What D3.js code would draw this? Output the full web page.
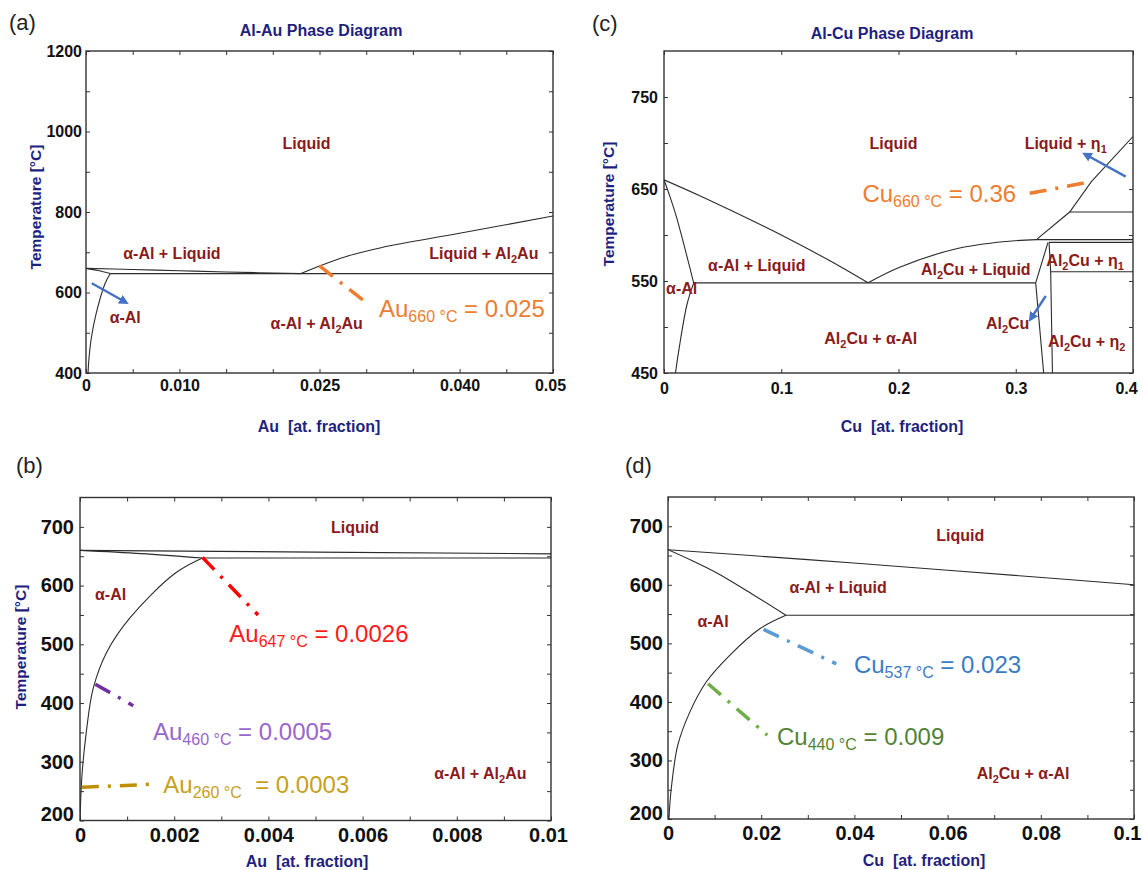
<!DOCTYPE html>
<html>
<head>
<meta charset="utf-8">
<script src="https://cdn.jsdelivr.net/npm/d3@7"></script>
<style>
  body { margin: 0; background: #fff; }
  svg { display: block; font-family: Arial, 'Liberation Sans', sans-serif; }
</style>
</head>
<body>
<div id="chart"></div>
<script>
// ---- Al-Au system (x = Au at. fraction, y = temperature in °C) ----
var auLiquidus = [[0, 660], [0.005, 657], [0.01, 654], [0.015, 651], [0.023, 647]]
var auSolidus = [[0, 660], [0.0013, 654.5], [0.0026, 647]]
var auSolvus = [[0, 200], [0.00004, 275], [0.00013, 348], [0.00028, 425], [0.00057, 487], [0.00106, 545], [0.00202, 621], [0.0026, 647]]
var auEutectic = [[0.0026, 647], [0.05, 647]]
var al2AuLiquidus = [[0.023, 647], [0.025, 666], [0.0278, 689], [0.0317, 712], [0.04, 747], [0.05, 790]]

// ---- Al-Cu system (x = Cu at. fraction) ----
var cuLiquidus = [[0, 660], [0.03, 643], [0.06, 625], [0.1, 600], [0.14, 573], [0.174, 548]]
var cuSolidus = [[0, 660], [0.005, 642], [0.0103, 621], [0.0181, 584], [0.0253, 548]]
var cuSolvus = [[0.0002, 200], [0.0007, 252], [0.0021, 326], [0.0047, 383], [0.0082, 434], [0.0133, 480], [0.0197, 525], [0.0253, 548]]
var cuEutectic = [[0.0253, 548], [0.317, 548]]
var thetaLiquidus = [[0.174, 548], [0.201, 565], [0.2494, 585], [0.292, 593], [0.3176, 595]]
var thetaSolidus = [[0.317, 548], [0.3275, 592]]
var thetaSolvusLeft = [[0.317, 548], [0.3238, 450]]
var thetaSolvusRight = [[0.3284, 592], [0.3298, 560], [0.3313, 450]]
var eta1Liquidus = [[0.3176, 595], [0.346, 625], [0.3645, 658], [0.4, 707]]
var cuPeritectic = [[0.3176, 595], [0.4, 595]]
var cuThetaTop = [[0.3284, 592], [0.4, 592]]
var cuEta1Step = [[0.346, 625], [0.4, 625]]
var cuEtaTransition = [[0.3298, 560], [0.4, 560]]

// ---- annotation leaders and arrows ----
var auNote660 = [[0.025, 666], [0.0301, 573]]
var auArrowAlpha = [[0.00062, 623], [0.0043, 575]]
var auNote647 = [[0.0026, 648], [0.00378, 550]]
var auNote460 = [[0.000326, 432], [0.00113, 395.5]]
var auNote260 = [[0.00004, 256.5], [0.00159, 262]]
var cuNote660 = [[0.3119, 645.3], [0.3645, 658]]
var cuArrowEta = [[0.3938, 663.4], [0.3588, 688]]
var cuArrowTheta = [[0.3256, 533.7], [0.3125, 508.4]]
var cuNote537 = [[0.0205, 524], [0.0361, 465]]
var cuNote440 = [[0.0086, 431], [0.0213, 343]]

// ---- ticks ----
var auWideXMajor = [0, 0.01, 0.025, 0.04, 0.05]
var auWideXLabels = ['0', '0.010', '0.025', '0.040', '0.05']
var auWideXMinor = [0.005, 0.015, 0.02, 0.03, 0.035, 0.045]
var auWideYMajor = [400, 600, 800, 1000, 1200]
var auWideYMinor = [500, 700, 900, 1100]

var cuWideXMajor = [0, 0.1, 0.2, 0.3, 0.4]
var cuWideXLabels = ['0', '0.1', '0.2', '0.3', '0.4']
var cuWideYMajor = [450, 550, 650, 750]
var cuWideYMinor = [500, 600, 700]

var auZoomXMajor = [0, 0.002, 0.004, 0.006, 0.008, 0.01]
var auZoomXLabels = ['0', '0.002', '0.004', '0.006', '0.008', '0.01']
var auZoomXMinor = [0.001, 0.003, 0.005, 0.007, 0.009]

var cuZoomXMajor = [0, 0.02, 0.04, 0.06, 0.08, 0.1]
var cuZoomXLabels = ['0', '0.02', '0.04', '0.06', '0.08', '0.1']
var cuZoomXMinor = [0.01, 0.03, 0.05, 0.07, 0.09]

var zoomYMajor = [200, 300, 400, 500, 600, 700]
var zoomYMinor = [250, 350, 450, 550, 650]

var NAVY = '#1f1f80'
var MAROON = '#8b1a1a'
var INK = '#2b2b2b'

var panels = [
  {
    id: 'a', tag: '(a)', tagPos: [9, 30],
    box: {left: 86, right: 553, top: 51, bottom: 373},
    xDomain: [0, 0.05], yDomain: [400, 1200],
    xMajor: auWideXMajor, xLabels: auWideXLabels, xMinor: auWideXMinor,
    yMajor: auWideYMajor, yMinor: auWideYMinor,
    tickFont: 16, xPad: 7, yPad: 4, endShift: -3,
    title: 'Al-Au Phase Diagram', titlePos: [321, 36],
    xTitle: 'Au  [at. fraction]', xTitlePos: [319, 432],
    yTitle: 'Temperature [°C]', yTitlePos: [35, 207],
    lines: [
      {pts: auLiquidus, curve: true}, {pts: auSolidus, curve: true}, {pts: auSolvus, curve: true},
      {pts: auEutectic}, {pts: al2AuLiquidus, curve: true}
    ],
    labels: [
      {t: 'Liquid', at: [0.0236, 971]},
      {t: 'α-Al + Liquid', at: [0.0092, 698]},
      {t: 'Liquid + Al{2}Au', at: [0.0426, 698]},
      {t: 'α-Al', at: [0.0042, 537]},
      {t: 'α-Al + Al{2}Au', at: [0.0247, 524]}
    ],
    notes: [
      {t: 'Au{660 °C} = 0.025', at: [0.03137, 540], color: '#ed7d31', line: auNote660, lineColor: '#ed7d31'}
    ],
    arrows: [auArrowAlpha]
  },
  {
    id: 'c', tag: '(c)', tagPos: [592, 31],
    box: {left: 664, right: 1133, top: 51, bottom: 373},
    xDomain: [0, 0.4], yDomain: [450, 800],
    xMajor: cuWideXMajor, xLabels: cuWideXLabels, xMinor: [],
    yMajor: cuWideYMajor, yMinor: cuWideYMinor,
    tickFont: 16, xPad: 10, yPad: 6, endShift: -7,
    title: 'Al-Cu Phase Diagram', titlePos: [892, 39],
    xTitle: 'Cu  [at. fraction]', xTitlePos: [902, 432],
    yTitle: 'Temperature [°C]', yTitlePos: [608, 204],
    lines: [
      {pts: cuLiquidus, curve: true}, {pts: cuSolidus, curve: true}, {pts: cuSolvus, curve: true},
      {pts: cuEutectic}, {pts: thetaLiquidus, curve: true}, {pts: thetaSolidus},
      {pts: thetaSolvusLeft}, {pts: thetaSolvusRight}, {pts: eta1Liquidus},
      {pts: cuPeritectic}, {pts: cuThetaTop}, {pts: cuEta1Step}, {pts: cuEtaTransition}
    ],
    labels: [
      {t: 'Liquid', at: [0.1957, 700]},
      {t: 'Liquid + η{1}', at: [0.3426, 700]},
      {t: 'α-Al + Liquid', at: [0.0791, 567]},
      {t: 'Al{2}Cu + Liquid', at: [0.2659, 562.7]},
      {t: 'Al{2}Cu + η{1}', at: [0.3592, 572.8]},
      {t: 'α-Al', at: [0.0151, 542]},
      {t: 'Al{2}Cu', at: [0.2931, 504]},
      {t: 'Al{2}Cu + α-Al', at: [0.1763, 487.7]},
      {t: 'Al{2}Cu + η{2}', at: [0.3605, 484]}
    ],
    notes: [
      {t: 'Cu{660 °C} = 0.36', at: [0.1692, 636.2], color: '#ed7d31', line: cuNote660, lineColor: '#ed7d31'}
    ],
    arrows: [cuArrowEta, cuArrowTheta]
  },
  {
    id: 'b', tag: '(b)', tagPos: [16, 473],
    box: {left: 80, right: 551, top: 497.5, bottom: 820.5},
    xDomain: [0, 0.01], yDomain: [200, 750],
    xMajor: auZoomXMajor, xLabels: auZoomXLabels, xMinor: auZoomXMinor,
    yMajor: zoomYMajor, yMinor: zoomYMinor,
    tickFont: 20, xPad: 7, yPad: 6, lift: 6, endShift: -3,
    xTitle: 'Au  [at. fraction]', xTitlePos: [307, 867],
    yTitle: 'Temperature [°C]', yTitlePos: [20, 647],
    lines: [
      {pts: auLiquidus, curve: true}, {pts: auSolidus, curve: true}, {pts: auSolvus, curve: true},
      {pts: auEutectic}
    ],
    labels: [
      {t: 'Liquid', at: [0.00584, 699]},
      {t: 'α-Al', at: [0.00065, 584]},
      {t: 'α-Al + Al{2}Au', at: [0.0085, 280]}
    ],
    notes: [
      {t: 'Au{647 °C} = 0.0026', at: [0.00317, 504.5], color: '#ff1a1a', line: auNote647, lineColor: '#ff0000'},
      {t: 'Au{460 °C} = 0.0005', at: [0.00155, 337], color: '#9966cc', line: auNote460, lineColor: '#7030a0'},
      {t: 'Au{260 °C}  = 0.0003', at: [0.00177, 247], color: '#c8a020', line: auNote260, lineColor: '#c09000'}
    ],
    arrows: []
  },
  {
    id: 'd', tag: '(d)', tagPos: [625, 473],
    box: {left: 668, right: 1134, top: 497, bottom: 819},
    xDomain: [0, 0.1], yDomain: [200, 750],
    xMajor: cuZoomXMajor, xLabels: cuZoomXLabels, xMinor: cuZoomXMinor,
    yMajor: zoomYMajor, yMinor: zoomYMinor,
    tickFont: 20, xPad: 7, yPad: 5, lift: 6, endShift: -7,
    xTitle: 'Cu  [at. fraction]', xTitlePos: [924, 866],
    lines: [
      {pts: cuLiquidus, curve: true}, {pts: cuSolidus, curve: true}, {pts: cuSolvus, curve: true},
      {pts: cuEutectic}
    ],
    labels: [
      {t: 'Liquid', at: [0.0627, 685]},
      {t: 'α-Al + Liquid', at: [0.0365, 595]},
      {t: 'α-Al', at: [0.00966, 537]},
      {t: 'Al{2}Cu + α-Al', at: [0.0762, 278]}
    ],
    notes: [
      {t: 'Cu{537 °C} = 0.023', at: [0.0399, 449], color: '#3a7cc4', line: cuNote537, lineColor: '#5b9bd5'},
      {t: 'Cu{440 °C} = 0.009', at: [0.0234, 326], color: '#548235', line: cuNote440, lineColor: '#70ad47'}
    ],
    arrows: []
  }
]

var svg = d3.select('#chart').append('svg')
  .attr('width', 1143)
  .attr('height', 870)

var defs = svg.append('defs')
defs.append('marker')
  .attr('id', 'arrow-blue')
  .attr('viewBox', '0 0 10 10')
  .attr('refX', 7)
  .attr('refY', 5)
  .attr('markerWidth', 4)
  .attr('markerHeight', 4)
  .attr('orient', 'auto')
  .append('path')
  .attr('d', 'M0,0 L10,5 L0,10 z')
  .attr('fill', '#4472c4')

// "Al{2}Au" -> Al, subscript 2, Au
function richText (sel, str, subSize, subShift) {
  var parts = str.split(/(\{[^}]*\})/).filter(function (s) { return s.length })
  var shifted = false
  parts.forEach(function (p) {
    if (p[0] === '{') {
      sel.append('tspan').attr('font-size', subSize).attr('dy', subShift).text(p.slice(1, -1))
      shifted = true
    } else {
      var t = sel.append('tspan').text(p)
      if (shifted) {
        t.attr('dy', -subShift)
        shifted = false
      }
    }
  })
}

function tickFormat (values, labels) {
  return function (d) {
    var i = values.indexOf(d)
    return i > -1 ? labels[i] : ''
  }
}

function styleAxis (sel, size) {
  sel.select('.domain').remove()
  sel.selectAll('.tick line').attr('stroke', '#333').attr('stroke-width', 1)
  sel.selectAll('.tick text')
    .attr('fill', '#111')
    .style('font-family', 'Arial, "Liberation Sans", sans-serif')
    .style('font-size', size + 'px')
    .style('font-weight', 'bold')
}

function drawPanel (p) {
  var b = p.box
  var x = d3.scaleLinear().domain(p.xDomain).range([b.left, b.right])
  var y = d3.scaleLinear().domain(p.yDomain).range([b.bottom, b.top])
  var g = svg.append('g').attr('class', 'panel-' + p.id)
  var allX = p.xMajor.concat(p.xMinor)
  var allY = p.yMajor.concat(p.yMinor)

  defs.append('clipPath').attr('id', 'clip-' + p.id)
    .append('rect')
    .attr('x', b.left)
    .attr('y', b.top)
    .attr('width', b.right - b.left)
    .attr('height', b.bottom - b.top)

  // axes, ticks pointing inward on all four sides
  var bottom = g.append('g')
    .attr('transform', 'translate(0,' + b.bottom + ')')
    .call(d3.axisBottom(x).tickValues(allX).tickSizeInner(-4).tickSizeOuter(0)
      .tickPadding(p.xPad).tickFormat(tickFormat(p.xMajor, p.xLabels)))
    .call(styleAxis, p.tickFont)

  // keep the last label inside the page
  bottom.selectAll('.tick text')
    .filter(function (d) { return d === p.xDomain[1] })
    .attr('dx', p.endShift)

  g.append('g')
    .attr('transform', 'translate(0,' + b.top + ')')
    .call(d3.axisTop(x).tickValues(allX).tickSizeInner(-4).tickSizeOuter(0).tickFormat(''))
    .call(styleAxis, p.tickFont)

  var left = g.append('g')
    .attr('transform', 'translate(' + b.left + ',0)')
    .call(d3.axisLeft(y).tickValues(allY).tickSizeInner(-4).tickSizeOuter(0)
      .tickPadding(p.yPad).tickFormat(tickFormat(p.yMajor, p.yMajor.map(String))))
    .call(styleAxis, p.tickFont)

  if (p.lift) {
    left.selectAll('.tick text')
      .filter(function (d) { return d === p.yDomain[0] })
      .attr('dy', (0.32 * p.tickFont - p.lift) + 'px')
  }

  g.append('g')
    .attr('transform', 'translate(' + b.right + ',0)')
    .call(d3.axisRight(y).tickValues(allY).tickSizeInner(-4).tickSizeOuter(0).tickFormat(''))
    .call(styleAxis, p.tickFont)

  g.append('rect')
    .attr('x', b.left)
    .attr('y', b.top)
    .attr('width', b.right - b.left)
    .attr('height', b.bottom - b.top)
    .attr('fill', 'none')
    .attr('stroke', '#333')
    .attr('stroke-width', 1.4)

  // phase boundaries
  var plot = g.append('g').attr('clip-path', 'url(#clip-' + p.id + ')')
  var straight = d3.line()
    .x(function (d) { return x(d[0]) })
    .y(function (d) { return y(d[1]) })
  var smooth = d3.line()
    .x(function (d) { return x(d[0]) })
    .y(function (d) { return y(d[1]) })
    .curve(d3.curveCatmullRom.alpha(0.5))

  plot.selectAll('path.phase')
    .data(p.lines)
    .enter()
    .append('path')
    .classed('phase', true)
    .attr('d', function (d) { return d.curve ? smooth(d.pts) : straight(d.pts) })
    .attr('fill', 'none')
    .attr('stroke', INK)
    .attr('stroke-width', 1.1)

  // dash-dot leaders
  plot.selectAll('path.leader')
    .data(p.notes)
    .enter()
    .append('path')
    .classed('leader', true)
    .attr('d', function (d) { return straight(d.line) })
    .attr('fill', 'none')
    .attr('stroke', function (d) { return d.lineColor })
    .attr('stroke-width', 3.5)
    .attr('stroke-dasharray', '17,9,3,9')

  g.selectAll('line.arrow')
    .data(p.arrows)
    .enter()
    .append('line')
    .classed('arrow', true)
    .attr('x1', function (d) { return x(d[0][0]) })
    .attr('y1', function (d) { return y(d[0][1]) })
    .attr('x2', function (d) { return x(d[1][0]) })
    .attr('y2', function (d) { return y(d[1][1]) })
    .attr('stroke', '#4472c4')
    .attr('stroke-width', 2.4)
    .attr('marker-end', 'url(#arrow-blue)')

  // region names
  p.labels.forEach(function (l) {
    var t = g.append('text')
      .attr('x', x(l.at[0]))
      .attr('y', y(l.at[1]) + 5.5)
      .attr('text-anchor', 'middle')
      .attr('fill', MAROON)
      .style('font-size', '16px')
      .style('font-weight', 'bold')
    richText(t, l.t, 11, 4)
  })

  // solubility notes
  p.notes.forEach(function (n) {
    var t = g.append('text')
      .attr('x', x(n.at[0]))
      .attr('y', y(n.at[1]))
      .attr('fill', n.color)
      .style('font-size', '24px')
      .style('white-space', 'pre')
    richText(t, n.t, 16, 5)
  })

  if (p.title) {
    svg.append('text')
      .attr('x', p.titlePos[0])
      .attr('y', p.titlePos[1])
      .attr('text-anchor', 'middle')
      .attr('fill', NAVY)
      .style('font-size', '16px')
      .style('font-weight', 'bold')
      .text(p.title)
  }

  svg.append('text')
    .attr('x', p.xTitlePos[0])
    .attr('y', p.xTitlePos[1])
    .attr('text-anchor', 'middle')
    .attr('fill', NAVY)
    .style('font-size', '16px')
    .style('font-weight', 'bold')
    .style('white-space', 'pre')
    .text(p.xTitle)

  if (p.yTitle) {
    svg.append('text')
      .attr('transform', 'translate(' + p.yTitlePos[0] + ',' + p.yTitlePos[1] + ') rotate(-90)')
      .attr('text-anchor', 'middle')
      .attr('dominant-baseline', 'central')
      .attr('fill', NAVY)
      .style('font-size', '15.5px')
      .style('font-weight', 'bold')
      .text(p.yTitle)
  }

  svg.append('text')
    .attr('x', p.tagPos[0])
    .attr('y', p.tagPos[1])
    .attr('fill', '#222')
    .style('font-size', '22px')
    .text(p.tag)
}

panels.forEach(drawPanel)
</script>
</body>
</html>
